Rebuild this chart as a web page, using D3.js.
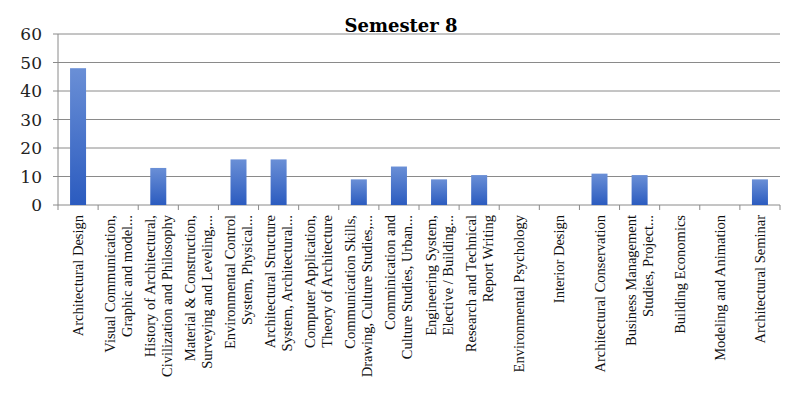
<!DOCTYPE html><html><head><script src="https://cdn.jsdelivr.net/npm/d3@7"></script>
<style>body{margin:0;background:#fff}</style></head><body><svg id="c" width="802" height="408"></svg>
<script>
const categories=[["Architectural Design"],["Visual Communication,","Graphic and model..."],["History of Architectural,","Civilization and Philosophy"],["Material & Construction,","Surveying and Leveling,..."],["Environmental Control","System, Physical..."],["Architectural Structure","System, Architectural..."],["Computer Application,","Theory of Architecture"],["Communication Skills,","Drawing, Culture Studies,..."],["Comminication and","Culture Studies, Urban..."],["Engineering System,","Elective / Building..."],["Research and Technical","Report Writing"],["Environmental Psychology"],["Interior Design"],["Architectural Conservation"],["Business Management","Studies, Project..."],["Building Economics"],["Modeling and Animation"],["Architectural Seminar"]];
const values=[48,0,13,0,16,16,0,9,13.5,9,10.5,0,0,11,10.5,0,0,9];
const yTicks=[0,10,20,30,40,50,60];
const svg=d3.select("#c");
const L=58,R=780,T=34,B=205;
const x=d3.scaleBand().domain(d3.range(categories.length)).range([L,R]);
const y=d3.scaleLinear().domain([0,60]).range([B,T]);
const defs=svg.append("defs");
const g=defs.append("linearGradient").attr("id","gr").attr("x1",0).attr("x2",0).attr("y1",0).attr("y2",1);
g.append("stop").attr("offset","0%").attr("stop-color","#6a8fd6");
g.append("stop").attr("offset","100%").attr("stop-color","#2b5bbf");
svg.append("g").selectAll("line").data(yTicks.slice(1)).join("line").attr("x1",L).attr("x2",R).attr("y1",d=>y(d)).attr("y2",d=>y(d)).attr("stroke","#8a8a8a").attr("stroke-width",1);
svg.append("line").attr("x1",L).attr("x2",L).attr("y1",T).attr("y2",B).attr("stroke","#8a8a8a");
svg.append("line").attr("x1",L).attr("x2",R).attr("y1",B).attr("y2",B).attr("stroke","#8a8a8a");
svg.append("g").selectAll("line").data(yTicks).join("line").attr("x1",L-5).attr("x2",L).attr("y1",d=>y(d)).attr("y2",d=>y(d)).attr("stroke","#8a8a8a");
svg.append("g").selectAll("line").data(d3.range(categories.length+1)).join("line").attr("x1",d=>L+d*x.step()).attr("x2",d=>L+d*x.step()).attr("y1",B).attr("y2",B+5).attr("stroke","#8a8a8a");
svg.append("g").selectAll("text").data(yTicks).join("text").attr("x",L-16).attr("y",d=>y(d)+6).attr("text-anchor","end").attr("font-family","DejaVu Serif").attr("font-size",17).attr("fill","#222").text(d=>d);
svg.append("g").selectAll("rect").data(values).join("rect").attr("x",(d,i)=>x(i)+x.bandwidth()/2-8).attr("width",16).attr("y",d=>y(d)).attr("height",d=>B-y(d)).attr("fill","url(#gr)");
const lab=svg.append("g").selectAll("text").data(categories).join("text")
 .attr("transform",(d,i)=>`translate(${x(i)+x.bandwidth()/2-(d.length-1)*8.5+5},${B+10}) rotate(-90)`)
 .attr("text-anchor","end").attr("font-family","Liberation Serif").attr("font-size",14.5).attr("fill","#111");
lab.selectAll("tspan").data(d=>d).join("tspan").attr("x",0).attr("dy",(d,i)=>i?17:0).text(d=>d);
svg.append("text").attr("x",401).attr("y",32).attr("text-anchor","middle").attr("font-family","DejaVu Serif").attr("font-weight","bold").attr("font-size",18).text("Semester 8");
</script></body></html>
